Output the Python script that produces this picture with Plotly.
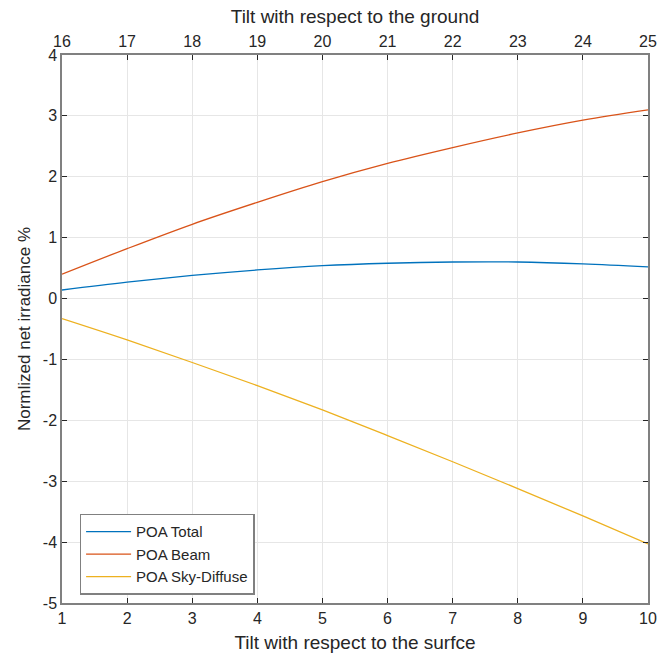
import plotly.graph_objects as go

tilt_surface = [1, 2, 3, 4, 5, 6, 7, 8, 9, 10]
tilt_ground_ticks = [16, 17, 18, 19, 20, 21, 22, 23, 24, 25]
poa_total = [0.14, 0.27, 0.38, 0.47, 0.54, 0.58, 0.60, 0.60, 0.57, 0.52]
poa_beam = [0.40, 0.82, 1.22, 1.58, 1.92, 2.22, 2.48, 2.72, 2.93, 3.10]
poa_diffuse = [-0.33, -0.68, -1.05, -1.43, -1.83, -2.25, -2.68, -3.12, -3.57, -4.03]
y_ticks = [-5, -4, -3, -2, -1, 0, 1, 2, 3, 4]
y_ticktext = [str(v) for v in y_ticks]

colors = ["#0072BD", "#D95319", "#EDB120"]
names = ["POA Total", "POA Beam", "POA Sky-Diffuse"]
series = [poa_total, poa_beam, poa_diffuse]

fig = go.Figure()
for name, vals, c in zip(names, series, colors):
    fig.add_trace(go.Scatter(x=tilt_surface, y=vals, mode="lines", name=name,
                             line=dict(color=c, width=1.3, shape="spline")))
fig.add_trace(go.Scatter(x=[tilt_ground_ticks[0], tilt_ground_ticks[-1]], y=[None, None],
                         xaxis="x2", yaxis="y2", mode="lines", showlegend=False, hoverinfo="skip"))

axis_col = "#262626"
grid_col = "#E6E6E6"
line_col = "#808080"
font_fam = "Liberation Sans, Arial, sans-serif"

fig.update_layout(
    width=667, height=660,
    margin=dict(l=62, r=10, t=55, b=55),
    paper_bgcolor="white", plot_bgcolor="white",
    font=dict(family=font_fam, color=axis_col, size=15),
    xaxis=dict(range=[1, 10], tickvals=tilt_surface, ticks="inside", ticklen=5,
               tickcolor=axis_col, showline=True, linecolor=line_col, linewidth=1.5,
               showgrid=True, gridcolor=grid_col, zeroline=False,
               title=dict(text="Tilt with respect to the surfce", font=dict(size=19), standoff=10),
               tickfont=dict(size=16)),
    xaxis2=dict(range=[16, 25], tickvals=tilt_ground_ticks, overlaying="x", side="top",
                ticks="inside", ticklen=5, tickcolor=axis_col, showline=True,
                linecolor=line_col, linewidth=1.5, showgrid=False, zeroline=False,
                title=dict(text="Tilt with respect to the ground", font=dict(size=19), standoff=4),
                tickfont=dict(size=16)),
    yaxis=dict(range=[-5, 4], tickvals=y_ticks, ticktext=y_ticktext, ticks="inside", ticklen=5,
               tickcolor=axis_col, showline=True, linecolor=line_col, linewidth=1.5,
               showgrid=True, gridcolor=grid_col, zeroline=False,
               title=dict(text="Normlized net irradiance %", font=dict(size=17), standoff=8),
               tickfont=dict(size=16)),
    yaxis2=dict(range=[-5, 4], tickvals=y_ticks, overlaying="y", side="right",
                ticks="inside", ticklen=5, tickcolor=axis_col, showline=True,
                linecolor=line_col, linewidth=1.5, showgrid=False, zeroline=False,
                showticklabels=False),
    legend=dict(x=0.03, y=0.015, xanchor="left", yanchor="bottom",
                bgcolor="white", bordercolor=line_col, borderwidth=1.5,
                font=dict(size=15, color=axis_col), tracegroupgap=0,
                itemwidth=45),
    showlegend=True,
)

fig.write_html("out.html")
